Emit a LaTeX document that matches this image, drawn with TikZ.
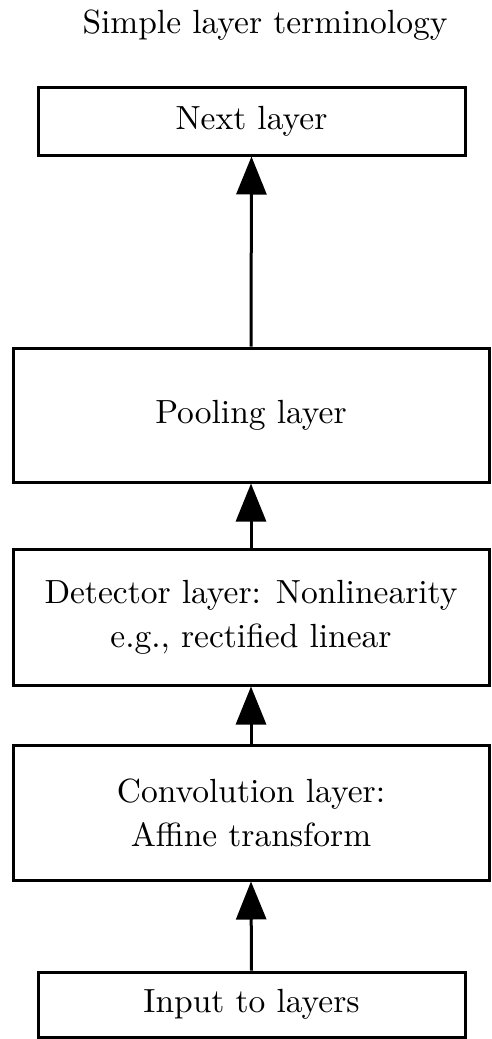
\documentclass[tikz,border=0pt]{standalone}
\usepackage{fontspec}
\setmainfont{lmroman10-regular}[Extension=.otf]
\usetikzlibrary{arrows.meta}
\tikzset{
  layerbox/.style={draw=black, line width=3pt, fill=white, align=center, inner sep=0pt,
    font=\fontsize{33.5}{44}\selectfont},
  bigbox/.style={layerbox, minimum width=476pt},
  smallbox/.style={layerbox, minimum width=427pt},
  uparrow/.style={line width=3pt, -{Triangle[length=38pt,width=30pt]}},
}
\begin{document}
\begin{tikzpicture}[x=1pt,y=-1pt]
\useasboundingbox (0,0) rectangle (491,1039);
\node[anchor=base, font=\fontsize{33.5}{44}\selectfont] (title) at (265,33) {Simple layer terminology};
\node[smallbox, minimum height=68pt] (next) at (251.5,121) {Next layer};
\node[bigbox, minimum height=134pt] (pool) at (251,415) {Pooling layer};
\node[bigbox, minimum height=136pt] (det) at (251,617) {Detector layer: Nonlinearity\\e.g., rectified linear};
\node[bigbox, minimum height=135pt] (conv) at (251,812.5) {Convolution layer:\\Affine transform};
\node[smallbox, minimum height=65pt] (inp) at (251.5,1004.5) {Input to layers};
\draw[uparrow] (pool.north) -- (next.south);
\draw[uparrow] (det.north) -- (pool.south);
\draw[uparrow] (conv.north) -- (det.south);
\draw[uparrow] (inp.north) -- (conv.south);
\end{tikzpicture}
\end{document}
